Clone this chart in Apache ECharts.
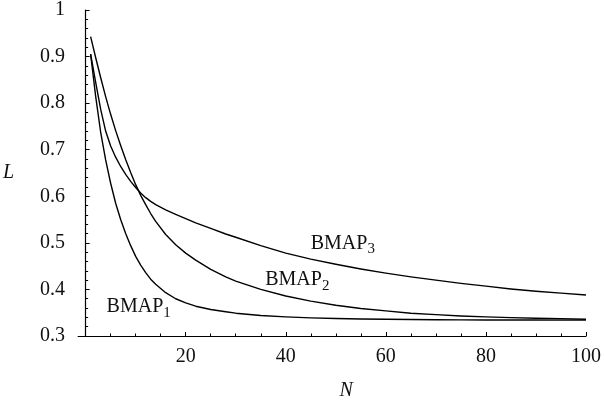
<!DOCTYPE html>
<html>
<head>
<meta charset="utf-8">
<style>html,body{margin:0;padding:0;background:#fff;}#chart{width:604px;height:406px;}</style>
<script src="https://cdn.jsdelivr.net/npm/echarts@6/dist/echarts.min.js"></script>
</head>
<body>
<div id="chart"></div>
<script>
// ---- data ----
var N = [1,2,3,4,5,6,7,8,9,10,11,12,13,14,16,18,20,22,25,28,30,35,40,45,50,55,60,65,70,75,80,85,90,95,100];
var bmap1 = [0.905,0.815,0.738,0.678,0.628,0.585,0.550,0.520,0.494,0.471,0.452,0.436,0.422,0.411,0.393,0.380,0.371,0.364,0.357,0.352,0.349,0.344,0.341,0.339,0.3375,0.3365,0.336,0.3355,0.335,0.3347,0.3345,0.3343,0.3342,0.3341,0.334];
var bmap2 = [0.943,0.898,0.855,0.814,0.776,0.741,0.709,0.679,0.651,0.625,0.602,0.582,0.563,0.546,0.518,0.496,0.478,0.463,0.443,0.427,0.418,0.400,0.386,0.375,0.366,0.359,0.354,0.349,0.346,0.343,0.341,0.3395,0.338,0.337,0.336];
var bmap3 = [0.905,0.845,0.787,0.740,0.708,0.684,0.664,0.647,0.632,0.619,0.607,0.597,0.589,0.582,0.571,0.561,0.552,0.543,0.531,0.519,0.512,0.494,0.478,0.465,0.454,0.444,0.435,0.427,0.420,0.413,0.407,0.401,0.396,0.392,0.388];
var seriesNames = ['BMAP1','BMAP2','BMAP3'];
var labelSubs = ['1','2','3'];
var labelAnchors = [[10.6,0.362],[42.3,0.420],[51.4,0.499]];
var xMajorTicks = [20,40,60,80,100];
var xMinorTicks = [5,10,15,25,30,35,45,50,55,65,70,75,85,90,95];
var xTitle = 'N', yTitle = 'L';

var FONT = '"Liberation Serif", "DejaVu Serif", serif';
function pairs(ys){ return N.map(function(n,i){ return [n, ys[i]]; }); }
var allY = [bmap1,bmap2,bmap3];

var series = allY.map(function(ys, k){
  return {
    name: seriesNames[k], type: 'line', data: pairs(ys), showSymbol: false,
    smooth: false,
    lineStyle: {color: '#000', width: 1.4, join: 'round'}, silent: true, z: 3,
    markPoint: {
      symbol: 'circle', symbolSize: 0, silent: true,
      data: [{coord: labelAnchors[k], value: k}],
      label: {
        show: true, position: 'inside',
        formatter: '{m|BMAP}{s|' + labelSubs[k] + '}',
        rich: {
          m: {fontFamily: FONT, fontSize: 20, color: '#111', verticalAlign: 'bottom'},
          s: {fontFamily: FONT, fontSize: 15, color: '#111', verticalAlign: 'bottom', padding: [0,0,-3,0]}
        }
      }
    }
  };
});

var chart = echarts.init(document.getElementById('chart'), null, {renderer: 'canvas'});
chart.setOption({
  animation: false,
  backgroundColor: '#fff',
  grid: {left: 78, right: 14, top: 10, bottom: 69, containLabel: false},
  xAxis: [{
    type: 'value', min: -1.5, max: 100,
    name: xTitle, nameLocation: 'middle', nameGap: 45,
    nameTextStyle: {fontFamily: FONT, fontStyle: 'italic', fontSize: 20, color: '#111', padding: [0,0,0,28]},
    axisLine: {show: true, lineStyle: {color: '#000', width: 1.2}},
    axisTick: {show: true, inside: true, length: 4, customValues: xMajorTicks, lineStyle: {color: '#000', width: 1}},
    axisLabel: {show: true, customValues: xMajorTicks, margin: 11, fontFamily: FONT, fontSize: 20, color: '#111'},
    splitLine: {show: false}
  },{
    type: 'value', min: -1.5, max: 100, position: 'bottom', offset: 0,
    axisLine: {show: false},
    axisTick: {show: true, inside: true, length: 2.5, customValues: xMinorTicks, lineStyle: {color: '#000', width: 1}},
    axisLabel: {show: false},
    splitLine: {show: false}
  }],
  yAxis: [{
    type: 'value', min: 0.3, max: 1, interval: 0.1,
    name: yTitle, nameLocation: 'middle', nameGap: 64, nameRotate: 0,
    nameTextStyle: {fontFamily: FONT, fontStyle: 'italic', fontSize: 20, color: '#111'},
    axisLine: {show: true, onZero: true, lineStyle: {color: '#000', width: 1.2}},
    axisTick: {show: true, inside: true, length: 4, lineStyle: {color: '#000', width: 1}},
    minorTick: {show: true, splitNumber: 5, length: 2.5, lineStyle: {color: '#000', width: 1}},
    axisLabel: {show: true, margin: 13, fontFamily: FONT, fontSize: 20, color: '#111',
      formatter: function(v){ return String(Math.round(v*10)/10); }},
    splitLine: {show: false}, minorSplitLine: {show: false}
  }],
  series: series
});
</script>
</body>
</html>
